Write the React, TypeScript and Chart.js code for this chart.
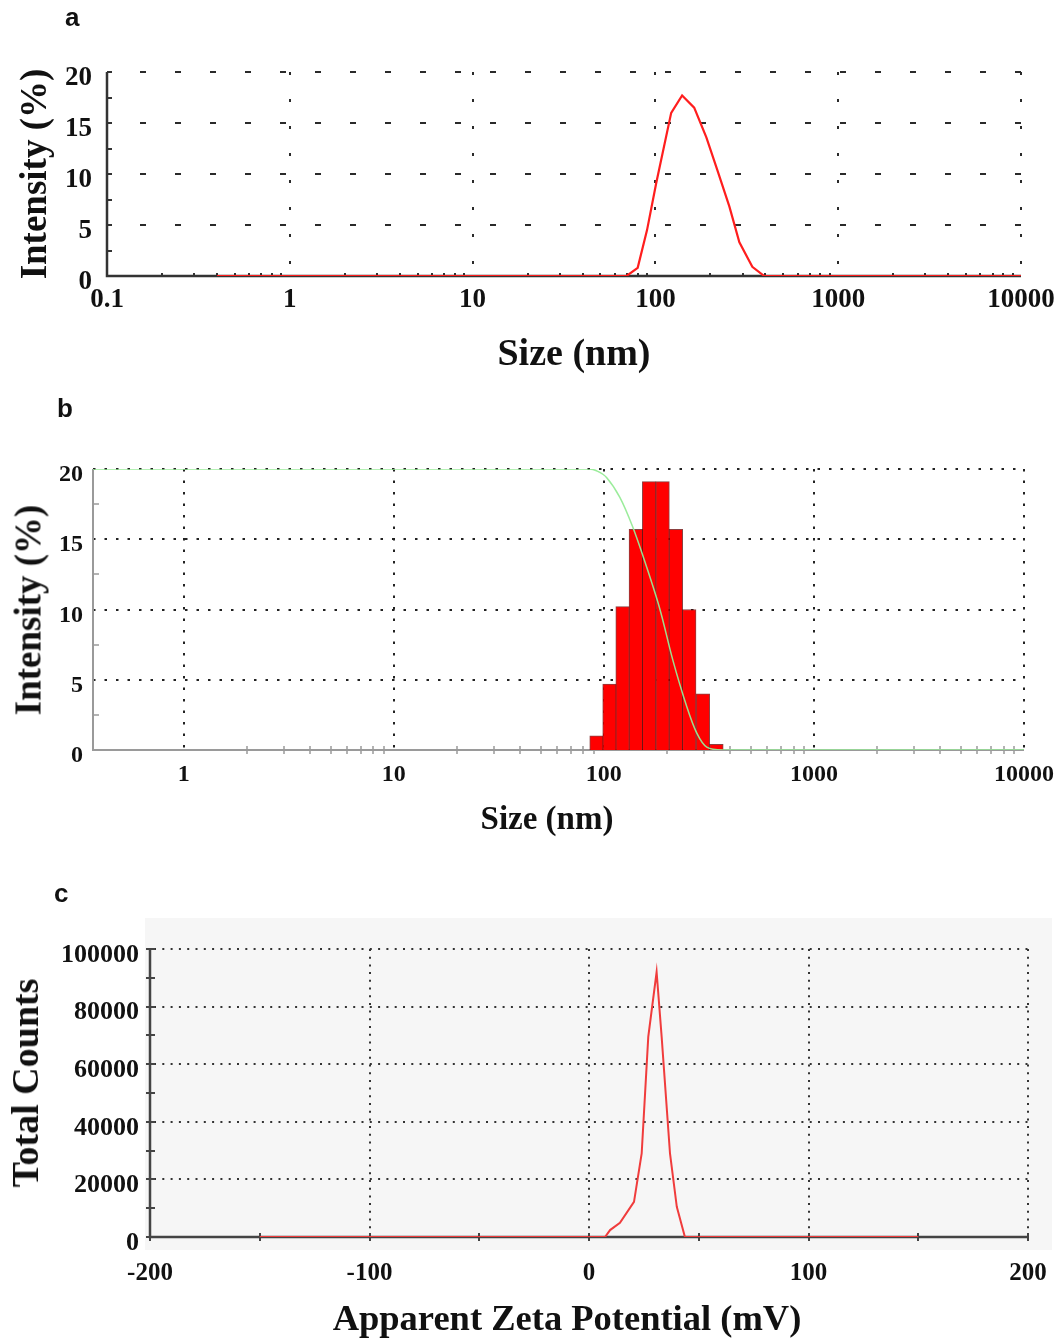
import React, { useEffect, useRef } from 'react';
import { Chart, registerables } from 'chart.js';

Chart.register(...registerables);

const SERIF = "'Liberation Serif', 'Times New Roman', Times, serif";
const SANS = "'Liberation Sans', Arial, Helvetica, sans-serif";

// ---------- Panel a : intensity distribution (line) ----------
const sizeA = [0.4, 69.5, 80, 90, 101, 122, 140, 163, 190, 218, 254, 288, 339, 394, 10000];
const intensityA = [0, 0, 0.8, 4.5, 9.1, 16.0, 17.7, 16.5, 13.6, 10.4, 6.8, 3.3, 0.9, 0, 0];
const xTickValsA = [0.1, 1, 10, 100, 1000, 10000];
const xTickLabelsA = ['0.1', '1', '10', '100', '1000', '10000'];
const yGridA = [5, 10, 15, 20];
const yTicksA = [0, 2.5, 5, 7.5, 10, 12.5, 15, 17.5, 20];

// ---------- Panel b : intensity histogram + cumulative ----------
const binCentersB = [92.3, 106.4, 122.8, 142.0, 164.3, 190.3, 220.2, 254.9, 296.0, 343.4];
const binIntensityB = [1.0, 4.7, 10.2, 15.7, 19.1, 19.1, 15.7, 10.0, 4.0, 0.4];
const cumSizeB = [0.37, 85, 93, 103, 119, 137, 160, 185, 213, 248, 277, 309, 369, 10000];
const cumValueB = [20, 20, 19.85, 19.4, 18.0, 15.9, 13.0, 10.0, 6.4, 3.1, 1.2, 0.2, 0, 0];
const xTickValsB = [1, 10, 100, 1000, 10000];
const xTickLabelsB = ['1', '10', '100', '1000', '10000'];
const yGridB = [5, 10, 15, 20];
const yMinorB = [2.5, 7.5, 12.5, 17.5];

// ---------- Panel c : zeta potential ----------
const zetaC = [-150, 7.3, 9.6, 14.1, 20.5, 24.0, 27.0, 30.8, 33.1, 36.9, 40.0, 43.7, 150];
const countsC = [0, 0, 2400, 4900, 12200, 29000, 69500, 92000, 69500, 29000, 10500, 0, 0];
const xGridC = [-100, 0, 100, 200];
const yGridC = [20000, 40000, 60000, 80000, 100000];
const yTicksC = [0, 10000, 20000, 30000, 40000, 50000, 60000, 70000, 80000, 90000, 100000];
const xTicksC = [-200, -150, -100, -50, 0, 50, 100, 150, 200];

const decades = [0.1, 1, 10, 100, 1000];
const multipliers = [2, 3, 4, 5, 6, 7, 8, 9];
function minorLogTicks(lo: number, hi: number): number[] {
  const out: number[] = [];
  decades.forEach((d) => multipliers.forEach((m) => {
    const v = d * m;
    if (v > lo && v < hi) out.push(v);
  }));
  return out;
}

function labelFor(vals: number[], labels: string[]) {
  return (value: any) => {
    const v = Number(value);
    const i = vals.findIndex((t) => Math.abs(Math.log10(t) - Math.log10(v)) < 1e-6);
    return i >= 0 ? labels[i] : '';
  };
}

type Decor = {
  bg?: { x0: number; y0: number; x1: number; y1: number; color: string };
  gridColor: string;
  gridWidth: number;
  hGrid: number[];
  hDash: number[];
  hStart: number;
  vGrid: number[];
  vDash: number[];
  axisColor: string;
  axisWidth: number;
  tickColor: string;
  tickWidth: number;
  yTicks: number[];
  yTickLeft: number;
  yTickRight: number;
  xTicks: number[];
  xTickUp: number;
  xTickDown: number;
};

function decorPlugin(d: Decor) {
  return {
    id: 'decor',
    beforeDraw(chart: any) {
      if (!d.bg) return;
      const ctx = chart.ctx;
      ctx.save();
      ctx.fillStyle = d.bg.color;
      ctx.fillRect(d.bg.x0, d.bg.y0, d.bg.x1 - d.bg.x0, d.bg.y1 - d.bg.y0);
      ctx.restore();
    },
    beforeDatasetsDraw(chart: any) {
      const { ctx, chartArea: ca } = chart;
      const xs = chart.scales.x;
      const ys = chart.scales.y;
      ctx.save();
      ctx.lineCap = 'butt';
      ctx.strokeStyle = d.gridColor;
      ctx.lineWidth = d.gridWidth;
      ctx.setLineDash(d.hDash);
      d.hGrid.forEach((v) => {
        const py = Math.round(ys.getPixelForValue(v));
        ctx.beginPath();
        ctx.moveTo(ca.left + d.hStart, py);
        ctx.lineTo(ca.right, py);
        ctx.stroke();
      });
      ctx.setLineDash(d.vDash);
      d.vGrid.forEach((v) => {
        const px = Math.round(xs.getPixelForValue(v));
        ctx.beginPath();
        ctx.moveTo(px, ca.top);
        ctx.lineTo(px, ca.bottom);
        ctx.stroke();
      });
      ctx.setLineDash([]);
      ctx.strokeStyle = d.axisColor;
      ctx.lineWidth = d.axisWidth;
      ctx.beginPath();
      ctx.moveTo(ca.left, ca.top);
      ctx.lineTo(ca.left, ca.bottom);
      ctx.lineTo(ca.right, ca.bottom);
      ctx.stroke();
      ctx.strokeStyle = d.tickColor;
      ctx.lineWidth = d.tickWidth;
      d.yTicks.forEach((v) => {
        const py = Math.round(ys.getPixelForValue(v));
        ctx.beginPath();
        ctx.moveTo(ca.left - d.yTickLeft, py);
        ctx.lineTo(ca.left + d.yTickRight, py);
        ctx.stroke();
      });
      d.xTicks.forEach((v) => {
        const px = Math.round(xs.getPixelForValue(v));
        ctx.beginPath();
        ctx.moveTo(px, ca.bottom - d.xTickUp);
        ctx.lineTo(px, ca.bottom + d.xTickDown);
        ctx.stroke();
      });
      ctx.restore();
    },
  };
}

const tickFont = (size: number, lineHeight = 1.2) => ({ family: SERIF, size, weight: 'bold' as const, lineHeight });
const noGrid = { display: false, drawTicks: false, tickLength: 0 };

function chartA(canvas: HTMLCanvasElement) {
  return new Chart(canvas, {
    type: 'line',
    data: {
      datasets: [
        {
          data: sizeA.map((x, i) => ({ x, y: intensityA[i] })),
          borderColor: 'rgb(255,30,30)',
          borderWidth: 2.2,
          pointRadius: 0,
          tension: 0,
          fill: false,
        },
      ],
    },
    options: {
      responsive: false,
      animation: false,
      devicePixelRatio: 1,
      layout: { padding: { left: 0, top: 42, right: 41, bottom: 0 } },
      plugins: { legend: { display: false }, tooltip: { enabled: false } },
      scales: {
        x: {
          type: 'logarithmic',
          min: 0.1,
          max: 10000,
          offset: false,
          grid: noGrid,
          border: { display: false },
          afterFit: (s: any) => { s.height = 104; },
          ticks: {
            autoSkip: false, maxRotation: 0, minRotation: 0, padding: 6,
            color: '#111', font: tickFont(27, 1.33),
            callback: labelFor(xTickValsA, xTickLabelsA),
          },
        },
        y: {
          min: 0,
          max: 20,
          grid: noGrid,
          border: { display: false },
          afterFit: (s: any) => { s.width = 107; },
          ticks: { stepSize: 5, padding: 15, labelOffset: 6, color: '#111', font: tickFont(27) },
        },
      },
    } as any,
    plugins: [
      decorPlugin({
        gridColor: '#2a2a2a', gridWidth: 2, hGrid: yGridA, hDash: [6, 29], hStart: 33,
        vGrid: xTickValsA.slice(1), vDash: [3, 24],
        axisColor: '#333', axisWidth: 2.5, tickColor: '#333', tickWidth: 2,
        yTicks: yTicksA, yTickLeft: 0, yTickRight: 5,
        xTicks: minorLogTicks(0.1, 10000), xTickUp: 3, xTickDown: 0,
      }),
    ],
  });
}

function chartB(canvas: HTMLCanvasElement) {
  return new Chart(canvas, {
    type: 'bar',
    data: {
      datasets: [
        {
          type: 'line',
          order: 0,
          data: cumSizeB.map((x, i) => ({ x, y: cumValueB[i] })),
          borderColor: 'rgba(150,235,150,0.95)',
          borderWidth: 1.5,
          pointRadius: 0,
          tension: 0.3,
          fill: false,
        } as any,
        {
          type: 'bar',
          order: 1,
          data: binCentersB.map((x, i) => ({ x, y: binIntensityB[i] })),
          backgroundColor: '#ff0000',
          borderColor: 'rgba(100,0,0,0.75)',
          borderWidth: 1,
          barThickness: 13.6,
        },
      ],
    },
    options: {
      responsive: false,
      animation: false,
      devicePixelRatio: 1,
      layout: { padding: { left: 0, top: 39, right: 38, bottom: 0 } },
      plugins: { legend: { display: false }, tooltip: { enabled: false } },
      scales: {
        x: {
          type: 'logarithmic',
          min: 0.37,
          max: 10000,
          offset: false,
          grid: { ...noGrid, offset: false },
          border: { display: false },
          afterFit: (s: any) => { s.height = 100; },
          ticks: {
            autoSkip: false, maxRotation: 0, minRotation: 0, padding: 5,
            color: '#111', font: tickFont(24, 1.67),
            callback: labelFor(xTickValsB, xTickLabelsB),
          },
        },
        y: {
          min: 0,
          max: 20,
          grid: noGrid,
          border: { display: false },
          afterFit: (s: any) => { s.width = 93; },
          ticks: { stepSize: 5, padding: 10, labelOffset: 6, color: '#111', font: tickFont(24) },
        },
      },
    } as any,
    plugins: [
      decorPlugin({
        gridColor: '#222', gridWidth: 2, hGrid: yGridB, hDash: [2.5, 9], hStart: 0,
        vGrid: xTickValsB, vDash: [2.5, 9],
        axisColor: '#9a9a9a', axisWidth: 2, tickColor: '#9a9a9a', tickWidth: 1.5,
        yTicks: yMinorB, yTickLeft: 0, yTickRight: 6,
        xTicks: minorLogTicks(1, 10000), xTickUp: 4, xTickDown: 4,
      }),
    ],
  });
}

function chartC(canvas: HTMLCanvasElement) {
  return new Chart(canvas, {
    type: 'line',
    data: {
      datasets: [
        {
          data: zetaC.map((x, i) => ({ x, y: countsC[i] })),
          borderColor: 'rgb(240,60,60)',
          borderWidth: 2,
          pointRadius: 0,
          tension: 0,
          fill: false,
        },
      ],
    },
    options: {
      responsive: false,
      animation: false,
      devicePixelRatio: 1,
      layout: { padding: { left: 0, top: 49, right: 34, bottom: 0 } },
      plugins: { legend: { display: false }, tooltip: { enabled: false } },
      scales: {
        x: {
          type: 'linear',
          min: -200,
          max: 200,
          grid: noGrid,
          border: { display: false },
          afterFit: (s: any) => { s.height = 101; },
          ticks: {
            stepSize: 100, autoSkip: false, maxRotation: 0, minRotation: 0, padding: 7,
            color: '#111', font: tickFont(25, 2.4),
            callback: (v: any) => String(v),
          },
        },
        y: {
          min: 0,
          max: 100000,
          grid: noGrid,
          border: { display: false },
          afterFit: (s: any) => { s.width = 150; },
          ticks: {
            stepSize: 20000, padding: 11, labelOffset: 6, color: '#111', font: tickFont(26),
            callback: (v: any) => String(v),
          },
        },
      },
    } as any,
    plugins: [
      decorPlugin({
        bg: { x0: 145, y0: 18, x1: 1052, y1: 350, color: '#f6f6f6' },
        gridColor: '#333', gridWidth: 2, hGrid: yGridC, hDash: [2, 6.3], hStart: 4,
        vGrid: xGridC, vDash: [2, 5.7],
        axisColor: '#444', axisWidth: 2.5, tickColor: '#444', tickWidth: 2,
        yTicks: yTicksC, yTickLeft: 4, yTickRight: 5,
        xTicks: xTicksC, xTickUp: 4, xTickDown: 4,
      }),
    ],
  });
}

const titleStyle = (x: number, y: number, size: number, rotate: boolean): React.CSSProperties => ({
  position: 'absolute',
  left: x,
  top: y,
  transform: `translate(-50%, -50%)${rotate ? ' rotate(-90deg)' : ''}`,
  font: `bold ${size}px ${SERIF}`,
  lineHeight: 1,
  whiteSpace: 'nowrap',
  color: '#111',
});

const panelStyle = (x: number, y: number): React.CSSProperties => ({
  position: 'absolute',
  left: x,
  top: y,
  font: `bold 26px ${SANS}`,
  lineHeight: 1,
  color: '#111',
});

export default function App() {
  const refA = useRef<HTMLCanvasElement>(null);
  const refB = useRef<HTMLCanvasElement>(null);
  const refC = useRef<HTMLCanvasElement>(null);

  useEffect(() => {
    const charts = [chartA(refA.current!), chartB(refB.current!), chartC(refC.current!)];
    return () => charts.forEach((c) => c.destroy());
  }, []);

  return (
    <div style={{ position: 'absolute', left: 0, top: 0, width: 1062, height: 1338, background: '#fff', overflow: 'hidden' }}>
      <canvas ref={refA} width={1062} height={350} style={{ position: 'absolute', left: 0, top: 30, width: 1062, height: 350 }} />
      <canvas ref={refB} width={1062} height={420} style={{ position: 'absolute', left: 0, top: 430, width: 1062, height: 420 }} />
      <canvas ref={refC} width={1062} height={438} style={{ position: 'absolute', left: 0, top: 900, width: 1062, height: 438 }} />

      <div style={panelStyle(65, 4)}>a</div>
      <div style={panelStyle(57, 395)}>b</div>
      <div style={panelStyle(54, 880)}>c</div>

      <div style={titleStyle(33, 174, 37, true)}>Intensity (%)</div>
      <div style={titleStyle(574, 352, 38, false)}>Size (nm)</div>

      <div style={titleStyle(28, 610, 37, true)}>Intensity (%)</div>
      <div style={titleStyle(547, 818, 33, false)}>Size (nm)</div>

      <div style={titleStyle(25, 1083, 38, true)}>Total Counts</div>
      <div style={titleStyle(567, 1318, 36.5, false)}>Apparent Zeta Potential (mV)</div>
    </div>
  );
}
